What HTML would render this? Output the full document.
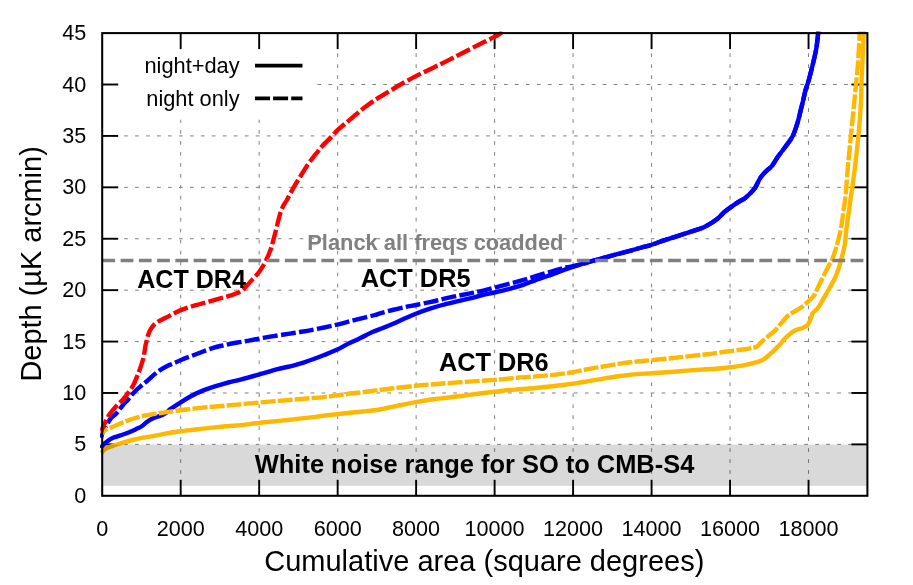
<!DOCTYPE html>
<html><head><meta charset="utf-8"><title>Depth vs cumulative area</title>
<style>html,body{margin:0;padding:0;background:#fff;}svg{display:block;will-change:transform;}text{font-family:"Liberation Sans",sans-serif;fill:#000;}</style>
</head><body>
<svg width="913" height="585" viewBox="0 0 913 585">
<rect x="0" y="0" width="913" height="585" fill="#fff"/>
<g stroke="#808080" stroke-width="1" stroke-dasharray="3.7 7.27" fill="none">
<line x1="180.68" y1="495.80" x2="180.68" y2="119.70"/>
<line x1="259.16" y1="495.80" x2="259.16" y2="119.70"/>
<line x1="337.65" y1="495.80" x2="337.65" y2="33.10"/>
<line x1="416.13" y1="495.80" x2="416.13" y2="33.10"/>
<line x1="494.61" y1="495.80" x2="494.61" y2="33.10"/>
<line x1="573.09" y1="495.80" x2="573.09" y2="33.10"/>
<line x1="651.57" y1="495.80" x2="651.57" y2="33.10"/>
<line x1="730.06" y1="495.80" x2="730.06" y2="33.10"/>
<line x1="808.54" y1="495.80" x2="808.54" y2="33.10"/>
<line x1="102.20" y1="444.39" x2="867.40" y2="444.39"/>
<line x1="102.20" y1="392.98" x2="867.40" y2="392.98"/>
<line x1="102.20" y1="341.57" x2="867.40" y2="341.57"/>
<line x1="102.20" y1="290.16" x2="867.40" y2="290.16"/>
<line x1="102.20" y1="238.74" x2="867.40" y2="238.74"/>
<line x1="102.20" y1="187.33" x2="867.40" y2="187.33"/>
<line x1="102.20" y1="135.92" x2="867.40" y2="135.92"/>
<line x1="102.20" y1="84.51" x2="121.00" y2="84.51"/>
<line x1="317.50" y1="84.51" x2="867.40" y2="84.51"/>
</g>
<g stroke="#000" stroke-width="1.9" fill="none" stroke-linecap="butt">
<line x1="180.68" y1="495.80" x2="180.68" y2="479.80"/>
<line x1="180.68" y1="33.10" x2="180.68" y2="49.10"/>
<line x1="259.16" y1="495.80" x2="259.16" y2="479.80"/>
<line x1="259.16" y1="33.10" x2="259.16" y2="49.10"/>
<line x1="337.65" y1="495.80" x2="337.65" y2="479.80"/>
<line x1="337.65" y1="33.10" x2="337.65" y2="49.10"/>
<line x1="416.13" y1="495.80" x2="416.13" y2="479.80"/>
<line x1="416.13" y1="33.10" x2="416.13" y2="49.10"/>
<line x1="494.61" y1="495.80" x2="494.61" y2="479.80"/>
<line x1="494.61" y1="33.10" x2="494.61" y2="49.10"/>
<line x1="573.09" y1="495.80" x2="573.09" y2="479.80"/>
<line x1="573.09" y1="33.10" x2="573.09" y2="49.10"/>
<line x1="651.57" y1="495.80" x2="651.57" y2="479.80"/>
<line x1="651.57" y1="33.10" x2="651.57" y2="49.10"/>
<line x1="730.06" y1="495.80" x2="730.06" y2="479.80"/>
<line x1="730.06" y1="33.10" x2="730.06" y2="49.10"/>
<line x1="808.54" y1="495.80" x2="808.54" y2="479.80"/>
<line x1="808.54" y1="33.10" x2="808.54" y2="49.10"/>
<line x1="102.20" y1="444.39" x2="118.20" y2="444.39"/>
<line x1="867.40" y1="444.39" x2="851.40" y2="444.39"/>
<line x1="102.20" y1="392.98" x2="118.20" y2="392.98"/>
<line x1="867.40" y1="392.98" x2="851.40" y2="392.98"/>
<line x1="102.20" y1="341.57" x2="118.20" y2="341.57"/>
<line x1="867.40" y1="341.57" x2="851.40" y2="341.57"/>
<line x1="102.20" y1="290.16" x2="118.20" y2="290.16"/>
<line x1="867.40" y1="290.16" x2="851.40" y2="290.16"/>
<line x1="102.20" y1="238.74" x2="118.20" y2="238.74"/>
<line x1="867.40" y1="238.74" x2="851.40" y2="238.74"/>
<line x1="102.20" y1="187.33" x2="118.20" y2="187.33"/>
<line x1="867.40" y1="187.33" x2="851.40" y2="187.33"/>
<line x1="102.20" y1="135.92" x2="118.20" y2="135.92"/>
<line x1="867.40" y1="135.92" x2="851.40" y2="135.92"/>
<line x1="102.20" y1="84.51" x2="118.20" y2="84.51"/>
<line x1="867.40" y1="84.51" x2="851.40" y2="84.51"/>
</g>
<clipPath id="c"><rect x="100.00" y="31.50" width="769.20" height="465.70"/></clipPath>
<g fill="none" stroke-width="4.40" stroke-linejoin="round" clip-path="url(#c)">
<path d="M101.50 448.50 C101.75 447.92 102.02 446.21 103.00 445.00 C103.98 443.79 105.63 442.48 107.40 441.25 C109.17 440.02 111.00 438.73 113.60 437.60 C116.20 436.48 120.39 435.40 123.00 434.50 C125.61 433.60 127.17 433.05 129.25 432.20 C131.33 431.35 133.42 430.39 135.50 429.40 C137.58 428.41 140.08 427.30 141.75 426.25 C143.42 425.20 144.25 424.09 145.50 423.10 C146.75 422.11 147.83 421.17 149.25 420.30 C150.67 419.43 152.49 418.53 154.00 417.90 C155.51 417.27 156.88 416.98 158.30 416.50 C159.72 416.02 161.11 415.65 162.50 415.00 C163.89 414.35 165.40 413.55 166.65 412.60 C167.90 411.65 168.89 410.20 170.00 409.30 C171.11 408.40 171.60 408.30 173.30 407.20 C175.00 406.10 177.28 404.53 180.20 402.70 C183.12 400.87 186.95 398.25 190.80 396.20 C194.65 394.15 199.13 392.07 203.30 390.40 C207.47 388.73 211.63 387.52 215.80 386.20 C219.97 384.88 224.18 383.60 228.30 382.50 C232.42 381.40 235.43 380.92 240.50 379.60 C245.57 378.28 252.53 376.35 258.70 374.60 C264.87 372.85 271.60 370.63 277.50 369.10 C283.40 367.57 289.52 366.57 294.10 365.40 C298.68 364.23 301.85 363.12 305.00 362.10 C308.15 361.08 309.80 360.48 313.00 359.30 C316.20 358.12 320.15 356.62 324.20 355.00 C328.25 353.38 333.42 351.42 337.30 349.60 C341.18 347.78 343.72 345.98 347.50 344.10 C351.28 342.22 355.85 340.30 360.00 338.30 C364.15 336.30 368.57 333.82 372.40 332.10 C376.23 330.38 379.65 329.33 383.00 328.00 C386.35 326.67 388.83 325.72 392.50 324.10 C396.17 322.48 401.12 320.03 405.00 318.30 C408.88 316.57 411.63 315.30 415.80 313.70 C419.97 312.10 425.57 310.15 430.00 308.70 C434.43 307.25 438.07 306.17 442.40 305.00 C446.73 303.83 451.40 302.80 456.00 301.70 C460.60 300.60 465.58 299.52 470.00 298.40 C474.42 297.28 478.43 295.98 482.50 295.00 C486.57 294.02 490.23 293.43 494.40 292.50 C498.57 291.57 503.23 290.50 507.50 289.40 C511.77 288.30 516.75 286.90 520.00 285.90 C523.25 284.90 524.58 284.28 527.00 283.40 C529.42 282.52 531.17 281.79 534.50 280.60 C537.83 279.41 542.83 277.75 547.00 276.25 C551.17 274.75 555.33 273.11 559.50 271.60 C563.67 270.09 568.75 268.32 572.00 267.20 C575.25 266.08 575.73 265.90 579.00 264.90 C582.27 263.90 586.77 262.58 591.65 261.20 C596.53 259.82 602.74 258.12 608.30 256.60 C613.86 255.08 619.45 253.62 625.00 252.10 C630.55 250.58 637.27 248.68 641.60 247.50 C645.93 246.32 647.66 246.05 651.00 245.00 C654.34 243.95 657.10 242.73 661.65 241.20 C666.20 239.67 672.74 237.60 678.30 235.80 C683.86 234.00 690.83 231.78 695.00 230.40 C699.17 229.02 700.53 228.75 703.30 227.50 C706.07 226.25 709.25 224.37 711.60 222.90 C713.95 221.43 715.83 219.95 717.40 218.70 C718.97 217.45 719.68 216.65 721.00 215.40 C722.32 214.15 722.63 213.28 725.30 211.20 C727.97 209.12 733.67 205.12 737.00 202.90 C740.33 200.68 742.95 199.63 745.30 197.90 C747.65 196.17 749.43 194.23 751.10 192.50 C752.77 190.77 754.12 189.30 755.30 187.50 C756.48 185.70 757.23 183.50 758.20 181.70 C759.17 179.90 759.78 178.45 761.10 176.70 C762.42 174.95 764.28 173.02 766.10 171.20 C767.92 169.38 769.98 168.29 772.00 165.80 C774.02 163.31 775.96 159.51 778.25 156.25 C780.54 152.99 783.36 149.58 785.75 146.25 C788.14 142.92 790.62 140.21 792.60 136.25 C794.58 132.29 796.24 126.88 797.60 122.50 C798.96 118.12 799.81 113.75 800.75 110.00 C801.69 106.25 802.49 103.17 803.25 100.00 C804.01 96.83 804.38 94.33 805.30 91.00 C806.22 87.67 807.52 84.58 808.80 80.00 C810.08 75.42 811.75 68.75 813.00 63.50 C814.25 58.25 815.43 53.57 816.30 48.50 C817.17 43.43 817.85 36.02 818.20 33.10 C818.55 30.18 818.37 31.35 818.40 31.00" stroke="#0000FF"/>
<path d="M101.00 437.80 C101.33 436.75 102.17 433.47 103.00 431.50 C103.83 429.53 104.75 428.12 106.00 426.00 C107.25 423.88 108.71 420.90 110.50 418.75 C112.29 416.60 114.67 415.39 116.75 413.10 C118.83 410.81 121.12 407.23 123.00 405.00 C124.88 402.77 126.33 401.62 128.00 399.70 C129.67 397.78 131.33 395.37 133.00 393.50 C134.67 391.63 136.53 389.87 138.00 388.50 C139.47 387.13 140.22 386.62 141.80 385.30 C143.38 383.98 145.40 382.42 147.50 380.60 C149.60 378.78 152.11 376.27 154.40 374.40 C156.69 372.53 158.86 370.92 161.25 369.40 C163.64 367.88 166.96 366.20 168.75 365.30 C170.54 364.40 170.04 364.85 172.00 364.00 C173.96 363.15 176.50 361.83 180.50 360.20 C184.50 358.57 190.67 356.22 196.00 354.20 C201.33 352.18 207.67 349.63 212.50 348.10 C217.33 346.57 220.83 345.93 225.00 345.00 C229.17 344.07 233.33 343.27 237.50 342.50 C241.67 341.73 245.78 341.17 250.00 340.40 C254.22 339.63 258.17 338.72 262.80 337.90 C267.43 337.08 273.58 336.17 277.80 335.50 C282.02 334.83 284.40 334.48 288.10 333.90 C291.80 333.32 296.35 332.58 300.00 332.00 C303.65 331.42 305.97 331.15 310.00 330.40 C314.03 329.65 319.65 328.47 324.20 327.50 C328.75 326.53 332.73 325.72 337.30 324.60 C341.87 323.48 346.72 322.05 351.60 320.80 C356.48 319.55 362.70 318.07 366.60 317.10 C370.50 316.13 372.77 315.62 375.00 315.00 C377.23 314.38 377.08 314.23 380.00 313.40 C382.92 312.57 388.33 311.05 392.50 310.00 C396.67 308.95 401.12 307.93 405.00 307.10 C408.88 306.27 411.63 305.83 415.80 305.00 C419.97 304.17 425.57 303.07 430.00 302.10 C434.43 301.13 438.07 300.18 442.40 299.20 C446.73 298.22 451.40 297.17 456.00 296.20 C460.60 295.23 465.27 294.38 470.00 293.40 C474.73 292.42 479.19 291.55 484.40 290.30 C489.61 289.05 495.32 287.47 501.25 285.90 C507.18 284.33 515.71 282.07 520.00 280.90 C524.29 279.73 524.27 279.73 527.00 278.90 C529.73 278.07 531.82 277.28 536.40 275.90 C540.98 274.52 549.61 272.00 554.50 270.60 C559.39 269.20 561.67 268.45 565.75 267.50 C569.83 266.55 574.68 265.95 579.00 264.90 C583.32 263.85 586.77 262.58 591.65 261.20 C596.53 259.82 602.74 258.12 608.30 256.60 C613.86 255.08 619.45 253.62 625.00 252.10 C630.55 250.58 637.27 248.68 641.60 247.50 C645.93 246.32 647.66 246.05 651.00 245.00 C654.34 243.95 657.10 242.73 661.65 241.20 C666.20 239.67 672.74 237.60 678.30 235.80 C683.86 234.00 690.83 231.78 695.00 230.40 C699.17 229.02 700.53 228.75 703.30 227.50 C706.07 226.25 709.25 224.37 711.60 222.90 C713.95 221.43 715.83 219.95 717.40 218.70 C718.97 217.45 719.68 216.65 721.00 215.40 C722.32 214.15 722.63 213.28 725.30 211.20 C727.97 209.12 733.67 205.12 737.00 202.90 C740.33 200.68 742.95 199.63 745.30 197.90 C747.65 196.17 749.43 194.23 751.10 192.50 C752.77 190.77 754.12 189.30 755.30 187.50 C756.48 185.70 757.23 183.50 758.20 181.70 C759.17 179.90 759.78 178.45 761.10 176.70 C762.42 174.95 764.28 173.02 766.10 171.20 C767.92 169.38 769.98 168.29 772.00 165.80 C774.02 163.31 775.96 159.51 778.25 156.25 C780.54 152.99 783.36 149.58 785.75 146.25 C788.14 142.92 790.62 140.21 792.60 136.25 C794.58 132.29 796.24 126.88 797.60 122.50 C798.96 118.12 799.81 113.75 800.75 110.00 C801.69 106.25 802.49 103.17 803.25 100.00 C804.01 96.83 804.38 94.33 805.30 91.00 C806.22 87.67 807.52 84.58 808.80 80.00 C810.08 75.42 811.75 68.75 813.00 63.50 C814.25 58.25 815.43 53.57 816.30 48.50 C817.17 43.43 817.85 36.02 818.20 33.10 C818.55 30.18 818.37 31.35 818.40 31.00" stroke="#0000FF" stroke-dasharray="15 3.3" stroke-dashoffset="1.9"/>
<path d="M101.50 453.00 C101.83 452.60 102.52 451.47 103.50 450.60 C104.48 449.73 105.72 448.63 107.40 447.80 C109.08 446.97 111.00 446.48 113.60 445.60 C116.20 444.72 119.87 443.43 123.00 442.50 C126.13 441.57 129.28 440.78 132.40 440.00 C135.53 439.22 138.82 438.35 141.75 437.80 C144.68 437.25 145.85 437.43 150.00 436.70 C154.15 435.97 161.62 434.30 166.65 433.40 C171.68 432.50 175.34 431.95 180.20 431.30 C185.06 430.65 190.43 430.12 195.80 429.50 C201.17 428.88 207.37 428.13 212.40 427.60 C217.43 427.07 221.96 426.65 226.00 426.30 C230.04 425.95 231.22 426.05 236.65 425.50 C242.08 424.95 251.61 423.77 258.55 423.00 C265.49 422.23 272.56 421.50 278.30 420.90 C284.04 420.30 288.27 419.90 293.00 419.40 C297.73 418.90 301.60 418.50 306.65 417.90 C311.70 417.30 318.16 416.43 323.30 415.80 C328.44 415.17 332.65 414.65 337.50 414.10 C342.35 413.55 348.15 412.93 352.40 412.50 C356.65 412.07 358.96 411.92 363.00 411.50 C367.04 411.08 371.60 410.82 376.65 410.00 C381.70 409.18 386.77 407.92 393.30 406.60 C399.83 405.28 409.18 403.33 415.80 402.10 C422.42 400.87 427.86 399.92 433.00 399.20 C438.14 398.48 441.60 398.38 446.65 397.80 C451.70 397.22 457.74 396.42 463.30 395.70 C468.86 394.98 474.82 394.15 480.00 393.50 C485.18 392.85 490.57 392.27 494.40 391.80 C498.23 391.33 499.29 391.08 503.00 390.70 C506.71 390.32 511.60 389.92 516.65 389.50 C521.70 389.08 527.74 388.69 533.30 388.20 C538.86 387.71 544.45 387.17 550.00 386.55 C555.55 385.93 562.77 384.99 566.60 384.50 C570.43 384.01 569.66 384.10 573.00 383.60 C576.34 383.10 581.60 382.34 586.65 381.50 C591.70 380.66 597.74 379.46 603.30 378.55 C608.86 377.64 614.45 376.79 620.00 376.05 C625.55 375.31 631.35 374.56 636.60 374.10 C641.85 373.64 645.38 373.68 651.50 373.30 C657.62 372.92 666.88 372.28 673.30 371.80 C679.72 371.32 684.45 370.82 690.00 370.40 C695.55 369.98 702.27 369.58 706.60 369.30 C710.93 369.02 712.66 368.95 716.00 368.70 C719.34 368.45 722.10 368.37 726.65 367.80 C731.20 367.23 738.44 366.20 743.30 365.30 C748.16 364.40 752.33 363.44 755.80 362.40 C759.27 361.36 761.33 360.78 764.10 359.05 C766.88 357.32 769.95 354.29 772.45 352.00 C774.95 349.71 776.78 347.77 779.10 345.30 C781.42 342.83 783.87 339.62 786.40 337.20 C788.93 334.78 791.59 332.35 794.30 330.80 C797.01 329.25 800.42 328.87 802.65 327.90 C804.88 326.93 806.40 326.32 807.65 325.00 C808.90 323.68 809.32 321.95 810.15 320.00 C810.98 318.05 811.40 315.25 812.65 313.30 C813.90 311.35 816.12 310.24 817.65 308.30 C819.17 306.36 820.56 303.73 821.80 301.65 C823.04 299.57 823.99 297.74 825.10 295.80 C826.21 293.86 827.38 291.88 828.45 290.00 C829.52 288.12 830.41 286.50 831.50 284.50 C832.59 282.50 833.90 280.40 835.00 278.00 C836.10 275.60 837.27 272.45 838.10 270.10 C838.93 267.75 839.27 266.50 840.00 263.90 C840.73 261.30 841.70 257.73 842.50 254.50 C843.30 251.27 844.15 248.70 844.80 244.50 C845.45 240.30 845.75 234.61 846.40 229.30 C847.05 223.99 847.97 218.03 848.70 212.65 C849.43 207.27 850.10 201.89 850.80 197.00 C851.50 192.11 852.20 188.36 852.90 183.30 C853.60 178.24 854.38 171.68 855.00 166.65 C855.62 161.62 856.03 158.28 856.60 153.10 C857.17 147.92 857.83 141.53 858.40 135.60 C858.97 129.67 859.55 123.64 860.00 117.50 C860.45 111.36 860.83 105.00 861.10 98.75 C861.37 92.50 861.28 88.12 861.60 80.00 C861.92 71.88 862.64 57.82 863.00 50.00 C863.36 42.18 863.62 36.27 863.75 33.10 C863.88 29.93 863.79 31.35 863.80 31.00" stroke="#FFB800"/>
<path d="M101.50 434.20 C101.83 433.75 102.73 432.27 103.50 431.50 C104.27 430.73 104.72 430.30 106.10 429.60 C107.47 428.90 109.67 428.20 111.75 427.30 C113.83 426.40 116.21 425.23 118.60 424.20 C120.99 423.17 123.60 422.05 126.10 421.10 C128.60 420.15 130.99 419.31 133.60 418.50 C136.21 417.69 139.02 416.89 141.75 416.25 C144.48 415.61 145.85 415.33 150.00 414.65 C154.15 413.97 161.62 412.88 166.65 412.15 C171.68 411.42 175.34 410.93 180.20 410.30 C185.06 409.68 190.43 409.00 195.80 408.40 C201.17 407.80 207.37 407.17 212.40 406.70 C217.43 406.23 221.96 405.94 226.00 405.60 C230.04 405.26 231.22 405.15 236.65 404.65 C242.08 404.15 251.61 403.23 258.55 402.60 C265.49 401.98 272.56 401.38 278.30 400.90 C284.04 400.42 288.27 400.10 293.00 399.70 C297.73 399.30 301.60 398.93 306.65 398.50 C311.70 398.07 318.16 397.62 323.30 397.10 C328.44 396.58 332.65 396.03 337.50 395.40 C342.35 394.77 348.15 393.82 352.40 393.30 C356.65 392.78 358.96 392.78 363.00 392.30 C367.04 391.82 371.60 391.07 376.65 390.40 C381.70 389.73 386.77 389.07 393.30 388.30 C399.83 387.53 409.18 386.47 415.80 385.80 C422.42 385.13 427.86 384.73 433.00 384.30 C438.14 383.87 441.60 383.58 446.65 383.20 C451.70 382.82 457.74 382.38 463.30 382.00 C468.86 381.62 474.82 381.25 480.00 380.90 C485.18 380.55 490.57 380.20 494.40 379.90 C498.23 379.60 499.29 379.45 503.00 379.10 C506.71 378.75 511.60 378.22 516.65 377.80 C521.70 377.38 527.74 377.04 533.30 376.60 C538.86 376.16 544.45 375.72 550.00 375.15 C555.55 374.58 562.77 373.71 566.60 373.20 C570.43 372.69 569.66 372.73 573.00 372.10 C576.34 371.47 581.60 370.33 586.65 369.40 C591.70 368.47 597.74 367.47 603.30 366.50 C608.86 365.53 614.45 364.43 620.00 363.60 C625.55 362.77 631.35 362.07 636.60 361.50 C641.85 360.93 645.38 360.73 651.50 360.15 C657.62 359.57 666.88 358.67 673.30 358.00 C679.72 357.33 684.45 356.77 690.00 356.15 C695.55 355.53 702.77 354.73 706.60 354.30 C710.43 353.88 709.66 354.06 713.00 353.60 C716.34 353.14 721.60 352.23 726.65 351.55 C731.70 350.87 738.86 350.12 743.30 349.50 C747.74 348.88 751.13 348.22 753.30 347.80 C755.47 347.38 755.58 347.32 756.30 347.00 C757.02 346.68 756.72 346.73 757.60 345.90 C758.48 345.07 759.82 343.62 761.60 342.00 C763.38 340.38 766.07 338.05 768.30 336.15 C770.52 334.25 772.56 333.03 774.95 330.60 C777.34 328.18 780.39 324.17 782.65 321.60 C784.91 319.03 786.42 316.93 788.50 315.20 C790.58 313.47 792.93 312.55 795.15 311.20 C797.37 309.85 799.57 308.76 801.80 307.10 C804.02 305.44 806.55 303.06 808.50 301.25 C810.45 299.44 812.12 298.12 813.50 296.25 C814.88 294.38 815.30 293.04 816.80 290.00 C818.30 286.96 820.51 282.04 822.50 278.00 C824.49 273.96 827.18 268.73 828.75 265.75 C830.32 262.77 830.86 262.49 831.90 260.10 C832.94 257.71 834.07 254.25 835.00 251.40 C835.93 248.55 836.53 246.68 837.50 243.00 C838.47 239.32 839.83 234.36 840.80 229.30 C841.77 224.24 842.53 218.03 843.30 212.65 C844.07 207.27 844.85 201.89 845.40 197.00 C845.95 192.11 846.18 188.36 846.60 183.30 C847.02 178.24 847.47 171.68 847.90 166.65 C848.33 161.62 848.70 158.28 849.20 153.10 C849.70 147.92 850.31 141.53 850.90 135.60 C851.49 129.67 852.13 123.64 852.75 117.50 C853.37 111.36 853.98 105.00 854.60 98.75 C855.23 92.50 855.88 86.71 856.50 80.00 C857.12 73.29 857.76 66.32 858.30 58.50 C858.84 50.68 859.48 37.68 859.75 33.10 C860.02 28.52 859.88 31.35 859.90 31.00" stroke="#FFB800" stroke-dasharray="14.9 2.2" stroke-dashoffset="6.5"/>
<path d="M101.50 431.00 C101.83 430.13 102.83 427.32 103.50 425.80 C104.17 424.28 104.54 423.73 105.50 421.90 C106.46 420.07 107.48 417.41 109.25 414.80 C111.02 412.19 113.81 408.82 116.10 406.25 C118.39 403.68 121.02 401.59 123.00 399.40 C124.98 397.21 126.32 395.42 128.00 393.10 C129.68 390.78 131.62 388.20 133.10 385.50 C134.58 382.80 135.85 379.38 136.90 376.90 C137.95 374.42 138.57 372.90 139.40 370.60 C140.23 368.30 141.23 365.18 141.90 363.10 C142.57 361.02 142.97 359.95 143.40 358.10 C143.83 356.25 144.13 354.18 144.50 352.00 C144.87 349.82 145.20 347.00 145.60 345.00 C146.00 343.00 146.48 341.67 146.90 340.00 C147.32 338.33 147.48 336.77 148.10 335.00 C148.72 333.23 149.55 331.17 150.60 329.40 C151.65 327.63 152.93 325.82 154.40 324.40 C155.87 322.98 157.53 322.00 159.40 320.90 C161.27 319.80 163.73 318.73 165.60 317.80 C167.47 316.87 168.17 316.53 170.60 315.30 C173.03 314.07 176.13 312.05 180.20 310.40 C184.27 308.75 189.77 307.00 195.00 305.40 C200.23 303.80 206.05 302.33 211.60 300.80 C217.15 299.27 224.13 297.45 228.30 296.20 C232.47 294.95 234.38 294.23 236.60 293.30 C238.82 292.37 240.10 291.67 241.60 290.60 C243.10 289.53 243.73 288.82 245.60 286.90 C247.47 284.98 250.62 281.50 252.80 279.10 C254.98 276.70 256.85 274.85 258.65 272.50 C260.45 270.15 262.21 267.37 263.60 265.00 C264.99 262.63 266.02 260.38 267.00 258.30 C267.98 256.22 268.78 254.27 269.50 252.50 C270.22 250.73 270.60 250.00 271.30 247.70 C272.00 245.40 272.88 241.80 273.70 238.70 C274.52 235.60 275.37 232.36 276.20 229.10 C277.03 225.84 277.93 222.06 278.70 219.15 C279.47 216.24 279.97 214.01 280.80 211.65 C281.63 209.29 282.69 206.94 283.70 205.00 C284.71 203.06 285.18 202.93 286.85 200.00 C288.52 197.07 291.51 191.23 293.70 187.40 C295.89 183.57 297.63 180.82 300.00 177.00 C302.37 173.18 305.55 167.97 307.90 164.50 C310.25 161.03 312.50 158.28 314.10 156.20 C315.70 154.12 316.17 153.67 317.50 152.00 C318.83 150.33 319.74 148.76 322.10 146.20 C324.46 143.64 329.12 139.28 331.65 136.65 C334.18 134.02 335.22 132.42 337.30 130.40 C339.38 128.38 341.62 126.70 344.15 124.55 C346.68 122.40 349.73 119.86 352.50 117.50 C355.27 115.14 358.03 112.62 360.80 110.40 C363.57 108.18 366.73 105.88 369.10 104.15 C371.47 102.42 372.98 101.34 375.00 100.00 C377.02 98.66 379.17 97.37 381.25 96.10 C383.33 94.83 384.58 94.17 387.50 92.40 C390.42 90.63 394.02 88.22 398.75 85.50 C403.48 82.78 410.07 79.12 415.90 76.10 C421.73 73.08 428.38 70.02 433.75 67.40 C439.12 64.78 443.31 62.80 448.10 60.40 C452.89 58.00 457.32 55.65 462.50 53.00 C467.68 50.35 473.83 47.18 479.15 44.50 C484.47 41.82 490.79 38.80 494.40 36.90 C498.01 35.00 499.37 33.98 500.80 33.10 C502.23 32.22 502.63 31.85 503.00 31.60" stroke="#FF0000" stroke-dasharray="15 3.3" stroke-dashoffset="2.8"/>
<line x1="102.20" y1="260.4" x2="867.40" y2="260.4" stroke="#808080" stroke-width="3.5" stroke-dasharray="12.8 5.45" stroke-dashoffset="-0.15"/>
</g>
<g stroke="#000" stroke-width="3.6" fill="none">
<line x1="255" y1="65.6" x2="302.5" y2="65.6"/>
<line x1="255" y1="98.4" x2="302.5" y2="98.4" stroke-dasharray="15 3.1"/>
</g>
<rect x="102.20" y="444.60" width="765.20" height="41.25" fill="#000" fill-opacity="0.15"/>
<rect x="102.20" y="33.10" width="765.20" height="462.70" stroke="#000" stroke-width="2.05" fill="none"/>
<g font-size="21.6px">
<text x="102.20" y="536.3" text-anchor="middle">0</text>
<text x="180.68" y="536.3" text-anchor="middle">2000</text>
<text x="259.16" y="536.3" text-anchor="middle">4000</text>
<text x="337.65" y="536.3" text-anchor="middle">6000</text>
<text x="416.13" y="536.3" text-anchor="middle">8000</text>
<text x="494.61" y="536.3" text-anchor="middle">10000</text>
<text x="573.09" y="536.3" text-anchor="middle">12000</text>
<text x="651.57" y="536.3" text-anchor="middle">14000</text>
<text x="730.06" y="536.3" text-anchor="middle">16000</text>
<text x="808.54" y="536.3" text-anchor="middle">18000</text>
<text x="86.2" y="502.80" text-anchor="end">0</text>
<text x="86.2" y="451.39" text-anchor="end">5</text>
<text x="86.2" y="399.98" text-anchor="end">10</text>
<text x="86.2" y="348.57" text-anchor="end">15</text>
<text x="86.2" y="297.16" text-anchor="end">20</text>
<text x="86.2" y="245.74" text-anchor="end">25</text>
<text x="86.2" y="194.33" text-anchor="end">30</text>
<text x="86.2" y="142.92" text-anchor="end">35</text>
<text x="86.2" y="91.51" text-anchor="end">40</text>
<text x="86.2" y="40.10" text-anchor="end">45</text>
<text x="239.6" y="72.6" text-anchor="end" font-size="21.8px">night+day</text>
<text x="239.6" y="105.8" text-anchor="end" font-size="21.8px">night only</text>
</g>
<text x="484.3" y="571.3" font-size="29px" text-anchor="middle">Cumulative area (square degrees)</text>
<text transform="translate(41.2,263.9) rotate(-90)" font-size="28.95px" text-anchor="middle">Depth (µK arcmin)</text>
<g font-weight="bold">
<text x="137.15" y="287.8" font-size="25.1px">ACT DR4</text>
<text x="360.75" y="287.3" font-size="25.33px">ACT DR5</text>
<text x="438.95" y="370.6" font-size="25.33px">ACT DR6</text>
<text x="254.8" y="472.5" font-size="25.45px">White noise range for SO to CMB-S4</text>
<text x="307.3" y="249.6" font-size="21.85px" style="fill:#808080">Planck all freqs coadded</text>
</g>
</svg>
</body></html>
